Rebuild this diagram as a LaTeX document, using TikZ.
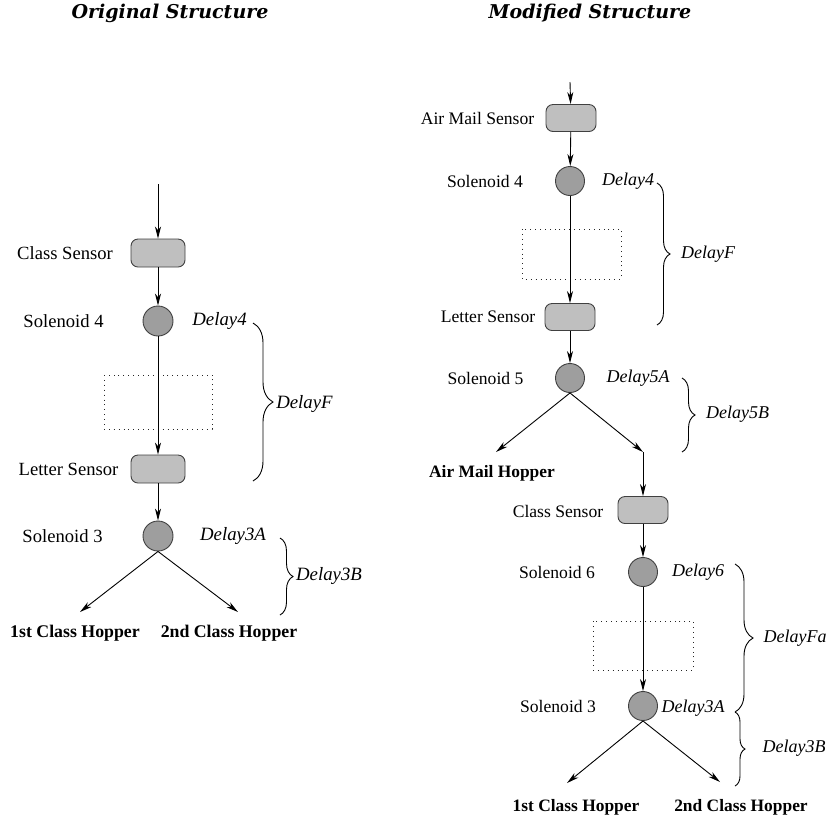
\documentclass[tikz,border=0pt]{standalone}
\usepackage{fontspec}
\setmainfont{Liberation Serif}
\newfontfamily\ttlfont{DejaVu Serif}
\usetikzlibrary{arrows.meta,decorations.pathreplacing}

\begin{document}
\begin{tikzpicture}[x=0.5pt,y=-0.5pt,>={Stealth[length=6pt,width=3pt,inset=1.8pt]},line width=0.45pt,
  sensor/.style={draw=black!75,fill=black!25,rounded corners=3.5pt,minimum width=27pt,minimum height=14pt,inner sep=0pt},
  sol/.style={circle,draw=black!75,fill=black!38,minimum size=15pt,inner sep=0pt},
  lbl/.style={font=\fontsize{9.3}{11}\selectfont,inner sep=0pt},
  dly/.style={font=\fontsize{9.4}{11}\selectfont\itshape,inner sep=0pt},
  hop/.style={font=\fontsize{8.9}{11}\selectfont\bfseries,inner sep=0pt},
  ttl/.style={font=\ttlfont\fontsize{9.5}{11}\selectfont\bfseries\itshape,inner sep=0pt},
  hold/.style={draw=black!85,dotted},
  brc/.style={decorate,decoration={brace,amplitude=#1}}]
\useasboundingbox (0,0) rectangle (828,816);

% ---- original structure
\begin{scope}
  \node[ttl] (t1) at (170,13) {Original Structure};
  \coordinate (in1) at (158,184);
  \node[sensor] (cs1) at (158,253) {};
  \node[lbl] (cs1l) at (65,253) {Class Sensor};
  \node[sol] (s41) at (158,321) {};
  \node[lbl] (s41l) at (63.5,321) {Solenoid 4};
  \node[dly] (d41) at (219.5,321) {Delay4};
  \draw[hold] (104,375) rectangle (212,429);
  \node[sensor] (ls1) at (158,469) {};
  \node[lbl] (ls1l) at (68.5,469) {Letter Sensor};
  \node[sol] (s31) at (158,536) {};
  \node[lbl] (s31l) at (62.5,536) {Solenoid 3};
  \node[dly] (d3a1) at (233,536) {Delay3A};
  \coordinate (h11) at (80,612); \coordinate (h21) at (238,612);
  \node[hop] (hp11) at (75,633) {1st Class Hopper};
  \node[hop] (hp21) at (229,633) {2nd Class Hopper};
  \draw[->] (in1) -- (cs1);
  \draw[->] (cs1) -- (s41);
  \draw[->] (s41) -- (ls1);
  \draw[->] (ls1) -- (s31);
  \draw[->] (s31.south) -- (h11);
  \draw[->] (s31.south) -- (h21);
  % braces
  \coordinate (bf1a) at (253,323); \coordinate (bf1b) at (253,481);
  \draw[brc=10pt] (bf1a) -- (bf1b);
  \node[dly] (df1) at (304.5,404) {DelayF};
  \coordinate (b3a) at (280,538); \coordinate (b3b) at (280,615);
  \draw[brc=6.5pt] (b3a) -- (b3b);
  \node[dly] (d3b1) at (329,576) {Delay3B};
\end{scope}

% ---- modified structure
\begin{scope}[lbl/.append style={font=\fontsize{8.8}{11}\selectfont},
  dly/.append style={font=\fontsize{9}{11}\selectfont\itshape},
  hop/.append style={font=\fontsize{8.7}{11}\selectfont\bfseries},
  sensor/.append style={minimum width=25pt,minimum height=13.5pt},
  sol/.append style={minimum size=14.5pt}]
  \node[ttl] (t2) at (590,13) {Modified Structure};
  \coordinate (in2) at (570,82);
  \node[sensor] (am) at (571,118) {};
  \node[lbl] (aml) at (477.5,118) {Air Mail Sensor};
  \node[sol] (s42) at (570,181) {};
  \node[lbl] (s42l) at (485,181) {Solenoid 4};
  \node[dly] (d42) at (628,181) {Delay4};
  \draw[hold] (522,229) rectangle (621,279);
  \node[sensor] (ls2) at (570,317) {};
  \node[lbl] (ls2l) at (488,317) {Letter Sensor};
  \node[sol] (s5) at (570,378) {};
  \node[lbl] (s5l) at (485.5,378) {Solenoid 5};
  \node[dly] (d5a) at (638,378) {Delay5A};
  \coordinate (ha) at (496,452); \coordinate (j5) at (643,452);
  \node[hop] (hpa) at (492,473) {Air Mail Hopper};
  \node[sensor] (cs2) at (643,510) {};
  \node[lbl] (cs2l) at (558,511) {Class Sensor};
  \node[sol] (s6) at (643,572) {};
  \node[lbl] (s6l) at (557,572) {Solenoid 6};
  \node[dly] (d6) at (698,572) {Delay6};
  \draw[hold] (593,621) rectangle (693,670);
  \node[sol] (s32) at (643,706) {};
  \node[lbl] (s32l) at (558,706) {Solenoid 3};
  \node[dly] (d3a2) at (693,708) {Delay3A};
  \coordinate (h12) at (567,783); \coordinate (h22) at (720,782);
  \node[hop] (hp12) at (576,807) {1st Class Hopper};
  \node[hop] (hp22) at (741,807) {2nd Class Hopper};
  \draw[->] (in2) -- (am);
  \draw[->] (am) -- (s42);
  \draw[->] (s42) -- (ls2);
  \draw[->] (ls2) -- (s5);
  \draw[->] (s5.south) -- (ha);
  \draw[->] (s5.south) -- (j5);
  \draw[->] (j5) -- (cs2);
  \draw[->] (cs2) -- (s6);
  \draw[->] (s6) -- (s32);
  \draw[->] (s32.south) -- (h12);
  \draw[->] (s32.south) -- (h22);
  % braces
  \coordinate (bf2a) at (657,183); \coordinate (bf2b) at (657,325);
  \draw[brc=6.5pt] (bf2a) -- (bf2b);
  \node[dly] (df2) at (708,254) {DelayF};
  \coordinate (b5a) at (682,378); \coordinate (b5b) at (682,452);
  \draw[brc=6.5pt] (b5a) -- (b5b);
  \node[dly] (d5b) at (737.5,414) {Delay5B};
  \coordinate (bfaa) at (735,564); \coordinate (bfab) at (735,712);
  \draw[brc=9pt] (bfaa) -- (bfab);
  \node[dly] (dfa) at (795,638) {DelayFa};
  \coordinate (b32a) at (735,712); \coordinate (b32b) at (735,786);
  \draw[brc=5pt] (b32a) -- (b32b);
  \node[dly] (d3b2) at (794,748) {Delay3B};
\end{scope}
\end{tikzpicture}
\end{document}
